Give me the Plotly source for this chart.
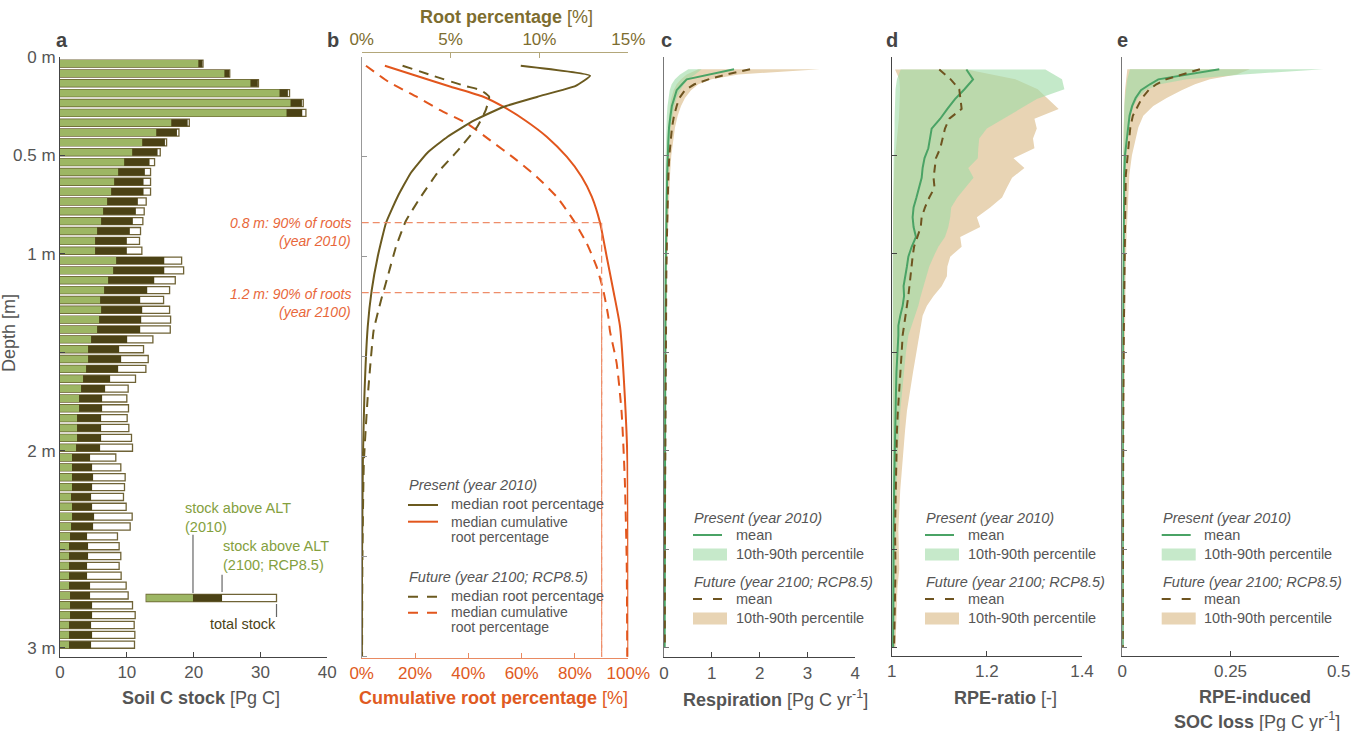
import plotly.graph_objects as go

# ======================= DATA =======================
# ---- Panel a: soil C stock per 5 cm layer [Pg C]
SOIL_DEPTH = [0.035, 0.085, 0.135, 0.185, 0.235, 0.285, 0.335, 0.385, 0.435, 0.485,
              0.535, 0.585, 0.635, 0.685, 0.735, 0.785, 0.835, 0.885, 0.935, 0.985,
              1.035, 1.085, 1.135, 1.185, 1.235, 1.285, 1.335, 1.385, 1.435, 1.485,
              1.535, 1.585, 1.635, 1.685, 1.735, 1.785, 1.835, 1.885, 1.935, 1.985,
              2.035, 2.085, 2.135, 2.185, 2.235, 2.285, 2.335, 2.385, 2.435, 2.485,
              2.535, 2.585, 2.635, 2.685, 2.735, 2.785, 2.835, 2.885, 2.935, 2.985]
STOCK_ALT_2010 = [20.7, 24.6, 28.5, 32.85, 34.5, 33.9, 16.65, 14.4, 12.3, 10.8,
                  9.6, 8.7, 8.1, 7.65, 7.05, 6.45, 6.15, 5.55, 5.25, 5.25,
                  8.4, 7.95, 7.2, 6.6, 6.0, 6.15, 5.85, 5.55, 4.65, 4.2,
                  4.2, 3.9, 3.45, 3.15, 2.85, 2.85, 2.55, 2.55, 2.55, 2.4,
                  1.8, 1.8, 1.8, 1.8, 1.65, 1.8, 1.8, 1.65, 1.5, 1.35,
                  1.35, 1.35, 1.35, 1.35, 1.5, 1.5, 1.5, 1.35, 1.35, 1.35]
STOCK_ALT_2100 = [21.3, 25.3, 29.6, 34.1, 36.2, 36.25, 19.1, 17.5, 15.7, 14.6,
                  13.4, 12.7, 12.5, 12.5, 11.65, 11.35, 10.9, 10.45, 10.0, 10.0,
                  15.6, 15.6, 14.1, 13.05, 12.0, 12.3, 12.15, 12.0, 10.05, 8.85,
                  9.15, 8.7, 7.5, 6.75, 6.3, 6.3, 6.15, 6.15, 6.15, 6.0,
                  4.5, 4.8, 4.95, 4.8, 4.65, 4.8, 5.1, 4.95, 4.05, 4.2,
                  4.2, 4.05, 4.05, 4.5, 4.5, 4.8, 4.8, 4.65, 4.8, 4.65]
STOCK_TOTAL = [21.4, 25.4, 29.7, 34.35, 36.4, 36.8, 19.35, 17.8, 15.95, 15.0,
               14.15, 13.55, 13.55, 13.55, 12.9, 12.6, 12.4, 12.05, 11.9, 12.25,
               18.2, 18.5, 17.25, 16.4, 15.5, 16.4, 16.55, 16.5, 13.9, 12.5,
               13.2, 12.85, 11.3, 10.2, 10.0, 10.25, 10.05, 10.3, 10.7, 10.85,
               8.35, 9.1, 9.75, 9.65, 9.5, 9.9, 10.8, 10.5, 8.6, 8.85,
               9.1, 8.85, 9.15, 9.9, 10.2, 10.85, 11.25, 11.1, 11.2, 11.15]
KEY_BAR_DEPTH = 2.748
KEY_BAR = [12.9, 19.9, 24.25, 32.4]     # start, ALT 2010, ALT 2100, total

# ---- Panel b: root distribution
ROOT_DEPTH_2010 = [0.045, 0.095, 0.146, 0.2, 0.25, 0.32, 0.4, 0.48, 0.58, 0.7, 0.83,
                   1.0, 1.17, 1.35, 1.7, 2.0, 2.5, 3.0]
ROOT_PCT_2010 = [8.95, 12.85, 12.04, 9.9, 8.0, 6.3, 4.83, 3.7, 2.77, 2.02, 1.37,
                 0.9, 0.56, 0.34, 0.15, 0.07, 0.02, 0.01]
ROOT_DEPTH_2100 = [0.045, 0.095, 0.146, 0.167, 0.2, 0.267, 0.35, 0.47, 0.58, 0.7, 0.82,
                   0.95, 1.1, 1.22, 1.37, 1.7, 2.03, 2.5, 3.0]
ROOT_PCT_2100 = [2.3, 4.0, 5.8, 6.7, 7.17, 6.98, 6.5, 5.4, 4.27, 3.33, 2.49,
                 1.93, 1.46, 1.08, 0.67, 0.34, 0.12, 0.04, 0.02]
CUM_DEPTH_2010 = [0.045, 0.1, 0.15, 0.2, 0.25, 0.32, 0.4, 0.5, 0.6, 0.7, 0.83,
                  1.0, 1.17, 1.35, 1.7, 2.03, 2.5, 3.0]
CUM_PCT_2010 = [8.7, 21.6, 33.4, 45.6, 53.1, 61.5, 69.4, 76.9, 82.5, 86.3, 89.4,
                91.9, 94.4, 96.9, 98.7, 99.7, 99.95, 100.0]
CUM_DEPTH_2100 = [0.045, 0.125, 0.2, 0.267, 0.333, 0.417, 0.517, 0.6, 0.7, 0.817,
                  0.933, 1.05, 1.167, 1.3, 1.37, 1.53, 1.78, 2.12, 2.53, 3.0]
CUM_PCT_2100 = [1.6, 10.0, 20.6, 29.4, 39.4, 48.1, 58.1, 65.6, 73.1, 79.4,
                84.4, 88.1, 90.6, 92.5, 93.1, 95.6, 97.5, 98.7, 99.4, 99.6]
ROOT90_DEPTH = [0.83, 1.18]
ROOT90_PCT = 90

# ---- Panels c and e: depth grid
CE_DEPTH = [0.064, 0.09, 0.115, 0.14, 0.17, 0.21, 0.25, 0.3, 0.36, 0.43, 0.5,
            0.6, 0.75, 0.9, 1.1, 1.4, 1.8, 2.3, 3.0]
RESP_MEAN_2010 = [1.464, 0.97, 0.474, 0.377, 0.265, 0.216, 0.165, 0.135, 0.105, 0.09, 0.077,
                  0.066, 0.056, 0.045, 0.035, 0.028, 0.021, 0.017, 0.014]
RESP_MEAN_2100 = [1.799, 1.311, 0.927, 0.635, 0.439, 0.321, 0.265, 0.209, 0.167, 0.132, 0.112,
                  0.091, 0.073, 0.063, 0.049, 0.042, 0.028, 0.021, 0.017]
RESP_P10_2010 = [0.509, 0.335, 0.230, 0.160, 0.119, 0.091, 0.073, 0.059, 0.049, 0.042, 0.035,
                 0.028, 0.021, 0.017, 0.014, 0.012, 0.010, 0.008, 0.007]
RESP_P90_2010 = [0.788, 0.649, 0.509, 0.418, 0.342, 0.265, 0.216, 0.174, 0.139, 0.119, 0.105,
                 0.087, 0.070, 0.056, 0.042, 0.035, 0.028, 0.021, 0.017]
RESP_P10_2100 = [0.718, 0.474, 0.356, 0.265, 0.202, 0.153, 0.126, 0.105, 0.084, 0.070, 0.059,
                 0.049, 0.038, 0.031, 0.024, 0.021, 0.017, 0.014, 0.012]
RESP_P90_2100 = [3.26, 1.555, 0.997, 0.718, 0.565, 0.439, 0.356, 0.286, 0.230, 0.188, 0.153,
                 0.126, 0.098, 0.080, 0.063, 0.049, 0.038, 0.028, 0.021]

SOC_MEAN_2010 = [0.2241, 0.1533, 0.0832, 0.0639, 0.0431, 0.0308, 0.0228, 0.0167, 0.0131, 0.0098,
                 0.0062, 0.0046, 0.0039, 0.0023, 0.0019, 0.0015, 0.0012, 0.0009, 0.0008]
SOC_MEAN_2100 = [0.1794, 0.1386, 0.1009, 0.0786, 0.0608, 0.0454, 0.0354, 0.0243, 0.0185, 0.0151,
                 0.0116, 0.0082, 0.0070, 0.0058, 0.0046, 0.0035, 0.0023, 0.0015, 0.0012]
SOC_P10_2010 = [0.0177, 0.0139, 0.0116, 0.0100, 0.0077, 0.0062, 0.0046, 0.0039, 0.0031, 0.0023,
                0.0023, 0.0015, 0.0012, 0.0008, 0.0004, 0.0004, 0.0002, 0.0002, 0.0001]
SOC_P90_2010 = [0.4644, 0.2796, 0.1486, 0.0870, 0.0547, 0.0362, 0.0262, 0.0193, 0.0146, 0.0116,
                0.0092, 0.0069, 0.0054, 0.0039, 0.0031, 0.0023, 0.0015, 0.0012, 0.0008]
SOC_P10_2100 = [0.0116, 0.0100, 0.0085, 0.0069, 0.0062, 0.0054, 0.0046, 0.0039, 0.0031, 0.0027,
                0.0023, 0.0019, 0.0015, 0.0012, 0.0008, 0.0008, 0.0006, 0.0005, 0.0004]
SOC_P90_2100 = [0.295, 0.2642, 0.2026, 0.1679, 0.1371, 0.1024, 0.0716, 0.0485, 0.0370, 0.0293,
                0.0223, 0.0162, 0.0123, 0.0100, 0.0077, 0.0054, 0.0039, 0.0023, 0.0015]

# ---- Panel d: RPE ratio
RPE_DEPTH = [0.065, 0.115, 0.165, 0.215, 0.265, 0.315, 0.365, 0.415, 0.465, 0.515,
             0.565, 0.615, 0.665, 0.715, 0.765, 0.815, 0.865, 0.915, 0.965, 1.015,
             1.065, 1.115, 1.165, 1.215, 1.265, 1.315, 1.365, 1.415, 1.5, 1.6,
             1.7, 1.8, 1.9, 2.0, 2.2, 2.4, 2.6, 2.7, 2.8, 3.0]
RPE_MEAN_2010 = [1.157, 1.171, 1.153, 1.133, 1.117, 1.102, 1.084, 1.081, 1.077, 1.069,
                 1.065, 1.063, 1.058, 1.052, 1.046, 1.044, 1.046, 1.051, 1.042, 1.035,
                 1.032, 1.028, 1.025, 1.026, 1.023, 1.018, 1.014, 1.014, 1.012, 1.010,
                 1.009, 1.008, 1.007, 1.006, 1.005, 1.004, 1.004, 1.004, 1.003, 1.003]
RPE_MEAN_2100 = [1.100, 1.124, 1.142, 1.145, 1.147, 1.121, 1.112, 1.107, 1.102, 1.093,
                 1.090, 1.088, 1.090, 1.079, 1.070, 1.063, 1.061, 1.054, 1.047, 1.044,
                 1.042, 1.040, 1.037, 1.035, 1.032, 1.029, 1.026, 1.023, 1.021, 1.018,
                 1.015, 1.013, 1.011, 1.010, 1.008, 1.007, 1.008, 1.007, 1.006, 1.005]
RPE_P10_2010 = [1.019, 1.011, 1.008, 1.007, 1.006, 1.006, 1.006, 1.006, 1.005, 1.004,
                1.0035, 1.0035, 1.003, 1.003, 1.003, 1.003, 1.0025, 1.0025, 1.002, 1.002,
                1.002, 1.002, 1.002, 1.002, 1.002, 1.002, 1.002, 1.002, 1.0015, 1.0015,
                1.0015, 1.0015, 1.0015, 1.0015, 1.0015, 1.0015, 1.0015, 1.0015, 1.0015, 1.0015]
RPE_P90_2010 = [1.323, 1.358, 1.363, 1.305, 1.270, 1.235, 1.200, 1.184, 1.182, 1.181,
                1.161, 1.172, 1.154, 1.138, 1.125, 1.123, 1.119, 1.112, 1.098, 1.088,
                1.079, 1.074, 1.067, 1.061, 1.056, 1.049, 1.042, 1.035, 1.030, 1.026,
                1.022, 1.018, 1.015, 1.013, 1.010, 1.008, 1.007, 1.007, 1.006, 1.005]
RPE_P10_2100 = [1.007, 1.016, 1.0175, 1.0175, 1.016, 1.015, 1.013, 1.012, 1.009, 1.006,
                1.005, 1.004, 1.0035, 1.0035, 1.003, 1.003, 1.003, 1.003, 1.0025, 1.0025,
                1.0025, 1.002, 1.002, 1.002, 1.002, 1.002, 1.002, 1.002, 1.002, 1.002,
                1.002, 1.002, 1.002, 1.002, 1.002, 1.002, 1.002, 1.002, 1.002, 1.002]
RPE_P90_2100 = [1.158, 1.260, 1.307, 1.330, 1.351, 1.300, 1.305, 1.297, 1.300, 1.256,
                1.279, 1.253, 1.242, 1.232, 1.207, 1.179, 1.186, 1.144, 1.147, 1.123,
                1.117, 1.116, 1.105, 1.088, 1.074, 1.065, 1.063, 1.058, 1.052, 1.045,
                1.038, 1.032, 1.028, 1.024, 1.018, 1.014, 1.016, 1.012, 1.010, 1.008]

DEPTH_LABEL_VALS = [0, 0.5, 1, 2, 3]
DEPTH_LABEL_TEXT = ["0 m", "0.5 m", "1 m", "2 m", "3 m"]
DEPTH_MINOR_VALS = [1.5, 2.5]
DEPTH_TICKS = [0, 0.5, 1, 1.5, 2, 2.5, 3]

# ======================= STYLE =======================
W, H = 1355, 731
FONT = "Liberation Sans, Arial, Helvetica, sans-serif"
GRAY = "#555555"
AX = "#444444"
GREEN_A = "#9db664"
DARK_A = "#4b4215"
OUTLINE_A = "#6f6336"
OLIVE = "#6b5a1f"
OLIVE_TXT = "#7d6d2f"
ORANGE = "#e2561d"
ORANGE_TXT = "#e05a22"
ORANGE_REF = "#ee8d69"
ORANGE_NOTE = "#e8673b"
MEAN_GREEN = "#4aa365"
MEAN_BROWN = "#6e5420"
BAND_GREEN = "rgba(160,220,168,0.62)"
BAND_TAN = "#e8d4b4"
KEY_GREEN_TXT = "#84a03e"


def fx(p):
    return p / W


def fy(p):
    return 1 - p / H


fig = go.Figure()

# ---------------- Panel a ----------------
bar_common = dict(orientation="h", width=0.036, xaxis="x", yaxis="y", showlegend=False,
                  hoverinfo="skip")
fig.add_trace(go.Bar(y=SOIL_DEPTH, x=STOCK_TOTAL,
                     marker=dict(color="white", line=dict(color=OUTLINE_A, width=1.3)), **bar_common))
fig.add_trace(go.Bar(y=SOIL_DEPTH, x=STOCK_ALT_2100,
                     marker=dict(color=DARK_A, line=dict(width=0)), **bar_common))
fig.add_trace(go.Bar(y=SOIL_DEPTH, x=STOCK_ALT_2010,
                     marker=dict(color=GREEN_A, line=dict(width=0)), **bar_common))
# key bar
fig.add_trace(go.Bar(y=[KEY_BAR_DEPTH], x=[KEY_BAR[3] - KEY_BAR[0]], base=[KEY_BAR[0]],
                     marker=dict(color="white", line=dict(color=OUTLINE_A, width=1.3)), **bar_common))
fig.add_trace(go.Bar(y=[KEY_BAR_DEPTH], x=[KEY_BAR[2] - KEY_BAR[0]], base=[KEY_BAR[0]],
                     marker=dict(color=DARK_A, line=dict(width=0)), **bar_common))
fig.add_trace(go.Bar(y=[KEY_BAR_DEPTH], x=[KEY_BAR[1] - KEY_BAR[0]], base=[KEY_BAR[0]],
                     marker=dict(color=GREEN_A, line=dict(width=0)), **bar_common))

# ---------------- Panel b ----------------
fig.add_trace(go.Scatter(x=ROOT_PCT_2010, y=ROOT_DEPTH_2010, xaxis="x6", yaxis="y2", mode="lines",
                         line=dict(color=OLIVE, width=2, shape="spline", smoothing=0.4),
                         showlegend=False, hoverinfo="skip"))
fig.add_trace(go.Scatter(x=ROOT_PCT_2100, y=ROOT_DEPTH_2100, xaxis="x6", yaxis="y2", mode="lines",
                         line=dict(color=OLIVE, width=2, dash="10px,7px", shape="spline", smoothing=0.4),
                         showlegend=False, hoverinfo="skip"))
fig.add_trace(go.Scatter(x=CUM_PCT_2010, y=CUM_DEPTH_2010, xaxis="x2", yaxis="y2", mode="lines",
                         line=dict(color=ORANGE, width=2, shape="spline", smoothing=0.6),
                         showlegend=False, hoverinfo="skip"))
fig.add_trace(go.Scatter(x=CUM_PCT_2100, y=CUM_DEPTH_2100, xaxis="x2", yaxis="y2", mode="lines",
                         line=dict(color=ORANGE, width=2, dash="10px,7px", shape="spline", smoothing=0.6),
                         showlegend=False, hoverinfo="skip"))


# ---------------- Panels c, d, e ----------------
def band(xa, ya, depth, lo, hi, color):
    fig.add_trace(go.Scatter(x=list(lo) + list(hi)[::-1], y=list(depth) + list(depth)[::-1],
                             xaxis=xa, yaxis=ya, mode="lines", fill="toself", fillcolor=color,
                             line=dict(width=0), showlegend=False, hoverinfo="skip"))


def means(xa, ya, depth, m2010, m2100):
    fig.add_trace(go.Scatter(x=m2010, y=depth, xaxis=xa, yaxis=ya, mode="lines",
                             line=dict(color=MEAN_GREEN, width=2), showlegend=False, hoverinfo="skip"))
    fig.add_trace(go.Scatter(x=m2100, y=depth, xaxis=xa, yaxis=ya, mode="lines",
                             line=dict(color=MEAN_BROWN, width=2, dash="8px,6px"),
                             showlegend=False, hoverinfo="skip"))


band("x3", "y3", CE_DEPTH, RESP_P10_2100, RESP_P90_2100, BAND_TAN)
band("x3", "y3", CE_DEPTH, RESP_P10_2010, RESP_P90_2010, BAND_GREEN)
means("x3", "y3", CE_DEPTH, RESP_MEAN_2010, RESP_MEAN_2100)

band("x4", "y4", RPE_DEPTH, RPE_P10_2100, RPE_P90_2100, BAND_TAN)
band("x4", "y4", RPE_DEPTH, RPE_P10_2010, RPE_P90_2010, BAND_GREEN)
means("x4", "y4", RPE_DEPTH, RPE_MEAN_2010, RPE_MEAN_2100)

band("x5", "y5", CE_DEPTH, SOC_P10_2100, SOC_P90_2100, BAND_TAN)
band("x5", "y5", CE_DEPTH, SOC_P10_2010, SOC_P90_2010, BAND_GREEN)
means("x5", "y5", CE_DEPTH, SOC_MEAN_2010, SOC_MEAN_2100)

# ======================= ANNOTATIONS / SHAPES =======================
ann = []
shapes = []


def txt(x, y, s, color=GRAY, size=14.5, xanchor="left", italic=False, bold=False, angle=0):
    if bold:
        s = "<b>" + s + "</b>"
    if italic:
        s = "<i>" + s + "</i>"
    ann.append(dict(x=fx(x), y=fy(y), xref="paper", yref="paper", text=s, showarrow=False,
                    xanchor=xanchor, yanchor="middle", textangle=angle, borderpad=0,
                    font=dict(family=FONT, size=size, color=color)))


def pline(x0, y0, x1, y1, color, width=2, dash=None):
    ln = dict(color=color, width=width)
    if dash:
        ln["dash"] = dash
    shapes.append(dict(type="line", xref="paper", yref="paper", x0=fx(x0), y0=fy(y0),
                       x1=fx(x1), y1=fy(y1), line=ln))


def prect(x0, y0, x1, y1, color):
    shapes.append(dict(type="rect", xref="paper", yref="paper", x0=fx(x0), y0=fy(y0),
                       x1=fx(x1), y1=fy(y1), fillcolor=color, line=dict(width=0)))


# panel letters
for lab, x in zip(["a", "b", "c", "d", "e"], [62, 333, 666, 892, 1122]):
    txt(x, 40, lab, color="#444444", size=20, xanchor="center", bold=True)

# axis titles
txt(9, 333, "Depth [m]", size=18, xanchor="center", angle=-90)
txt(201.3, 698, "<b>Soil C stock</b> [Pg C]", size=18, xanchor="center")
txt(493.3, 698, "<b>Cumulative root percentage</b> [%]", color=ORANGE_TXT, size=18, xanchor="center")
txt(506.7, 16.7, "<b>Root percentage</b> [%]", color=OLIVE_TXT, size=18, xanchor="center")
txt(775, 698, "<b>Respiration</b> [Pg C yr<sup>-1</sup>]", size=18, xanchor="center")
txt(1005.7, 698, "<b>RPE-ratio</b> [-]", size=18, xanchor="center")
txt(1255, 697, "<b>RPE-induced</b>", size=18, xanchor="center")
txt(1256.5, 720, "<b>SOC loss</b> [Pg C yr<sup>-1</sup>]", size=18, xanchor="center")

# panel a key annotations
txt(184.3, 508, "stock above ALT", color=KEY_GREEN_TXT)
txt(184.3, 527, "(2010)", color=KEY_GREEN_TXT)
txt(221.7, 546, "stock above ALT", color=KEY_GREEN_TXT)
txt(221.7, 564.5, "(2100; RCP8.5)", color=KEY_GREEN_TXT)
txt(276.5, 624, "total stock", color=DARK_A, xanchor="right")
for xv, d0, d1 in [(KEY_BAR[1], 2.427, 2.722), (KEY_BAR[2], 2.63, 2.717), (KEY_BAR[3], 2.778, 2.844)]:
    shapes.append(dict(type="line", xref="x", yref="y", x0=xv, x1=xv, y0=d0, y1=d1,
                       line=dict(color="#666666", width=1.2)))

# panel b reference lines + notes
for d in ROOT90_DEPTH:
    shapes.append(dict(type="line", xref="x2", yref="y2", x0=0, x1=ROOT90_PCT, y0=d, y1=d,
                       line=dict(color=ORANGE_REF, width=1.2, dash="7px,4px")))
    shapes.append(dict(type="line", xref="x2", yref="y2", x0=ROOT90_PCT, x1=ROOT90_PCT, y0=d, y1=3.0,
                       line=dict(color=ORANGE_REF, width=1.2, dash="7px,4px")))
txt(352, 223.3, "0.8 m: 90% of roots", color=ORANGE_NOTE, size=14, xanchor="right", italic=True)
txt(352, 241, "(year 2010)", color=ORANGE_NOTE, size=14, xanchor="right", italic=True)
txt(352, 294, "1.2 m: 90% of roots", color=ORANGE_NOTE, size=14, xanchor="right", italic=True)
txt(352, 311.5, "(year 2100)", color=ORANGE_NOTE, size=14, xanchor="right", italic=True)

# panel b legend
txt(408, 485, "Present (year 2010)", italic=True)
pline(408, 505, 438, 505, OLIVE)
txt(450, 503.5, "median root percentage")
pline(408, 521.7, 438, 521.7, ORANGE)
txt(450, 521.5, "median cumulative", size=14)
txt(450, 536.5, "root percentage", size=14)
txt(408, 576.7, "Future (year 2100; RCP8.5)", italic=True)
pline(408, 596.7, 438, 596.7, OLIVE, dash="10px,9px")
txt(450, 596, "median root percentage")
pline(408, 612.7, 438, 612.7, ORANGE, dash="10px,9px")
txt(450, 611.5, "median cumulative", size=14)
txt(450, 626.5, "root percentage", size=14)

# panel c/d/e legends
for x0 in [693, 925, 1161.7]:
    txt(x0, 518, "Present (year 2010)", italic=True)
    pline(x0, 535, x0 + 29, 535, MEAN_GREEN)
    txt(x0 + 41.5, 534.5, "mean")
    prect(x0, 548.5, x0 + 34, 560.5, "#c6e9ca")
    txt(x0 + 41.5, 554, "10th-90th percentile")
    txt(x0, 581.7, "Future (year 2100; RCP8.5)", italic=True)
    pline(x0, 599, x0 + 29, 599, MEAN_BROWN, dash="9px,11px")
    txt(x0 + 41.5, 598.5, "mean")
    prect(x0, 612.5, x0 + 34, 624.5, BAND_TAN)
    txt(x0 + 41.5, 618, "10th-90th percentile")

# ======================= AXES =======================


def xax(domain, rng, tv, tt, anchor, color=AX, fcolor=GRAY):
    return dict(domain=[fx(domain[0]), fx(domain[1])], range=rng, tickvals=tv, ticktext=tt,
                ticks="inside", ticklen=5, tickcolor=color, showline=True, linecolor=color,
                linewidth=1, showgrid=False, zeroline=False, anchor=anchor, fixedrange=True,
                automargin=False, tickfont=dict(family=FONT, size=17, color=fcolor))


def yax(top, bottom, rng, anchor, labels=False, color=AX):
    d = dict(domain=[fy(bottom), fy(top)], range=rng, ticks="inside",
             ticklen=5, tickcolor=color, showline=True, linecolor=color, linewidth=1,
             showgrid=False, zeroline=False, anchor=anchor, fixedrange=True, automargin=False)
    if labels:
        d.update(tickvals=DEPTH_LABEL_VALS, ticktext=DEPTH_LABEL_TEXT, showticklabels=True,
                 tickfont=dict(family=FONT, size=17, color=GRAY),
                 minor=dict(tickvals=DEPTH_MINOR_VALS, ticks="inside", ticklen=5, tickcolor=color))
    else:
        d.update(tickvals=DEPTH_TICKS, showticklabels=False)
    return d


layout = dict(
    width=W, height=H, margin=dict(l=0, r=0, t=0, b=0, autoexpand=False), autosize=False,
    paper_bgcolor="white", plot_bgcolor="rgba(0,0,0,0)", barmode="overlay",
    font=dict(family=FONT, color=GRAY), showlegend=False,
    xaxis=xax((60, 327.3), [0, 40], [0, 10, 20, 30, 40], ["0", "10", "20", "30", "40"], "y"),
    yaxis=yax(56.7, 656.7, [3.046, 0], "x", labels=True),
    xaxis2=xax((361.7, 628.3), [0, 100], [0, 20, 40, 60, 80, 100],
               ["0%", "20%", "40%", "60%", "80%", "100%"], "y2", color="#e98a62", fcolor=ORANGE_TXT),
    yaxis2=yax(56.7, 658, [3.0065, 0], "x2", color="#999999"),
    xaxis6=dict(overlaying="x2", side="top", anchor="free", position=fy(51.7), range=[0, 15],
                tickvals=[0, 5, 10, 15], ticktext=["0%", "5%", "10%", "15%"], ticks="inside",
                ticklen=5, tickcolor="#b3a77a", showline=True, linecolor="#b3a77a", linewidth=1,
                showgrid=False, zeroline=False, fixedrange=True, automargin=False,
                tickfont=dict(family=FONT, size=17, color=OLIVE_TXT)),
    xaxis3=xax((664, 855.3), [0, 4], [0, 1, 2, 3, 4], ["0", "1", "2", "3", "4"], "y3"),
    yaxis3=yax(56.7, 657.3, [3.049, 0], "x3", color="#777777"),
    xaxis4=xax((891.7, 1082), [1, 1.4], [1, 1.2, 1.4], ["1", "1.2", "1.4"], "y4"),
    yaxis4=yax(56.7, 655.7, [3.041, 0], "x4", color="#444444"),
    xaxis5=xax((1122.3, 1338.7), [0, 0.5], [0, 0.25, 0.5], ["0", "0.25", "0.5"], "y5"),
    yaxis5=yax(56.7, 655.7, [3.041, 0], "x5", color="#777777"),
    annotations=ann, shapes=shapes,
)
fig.update_layout(**layout)

fig.write_html("out.html")
